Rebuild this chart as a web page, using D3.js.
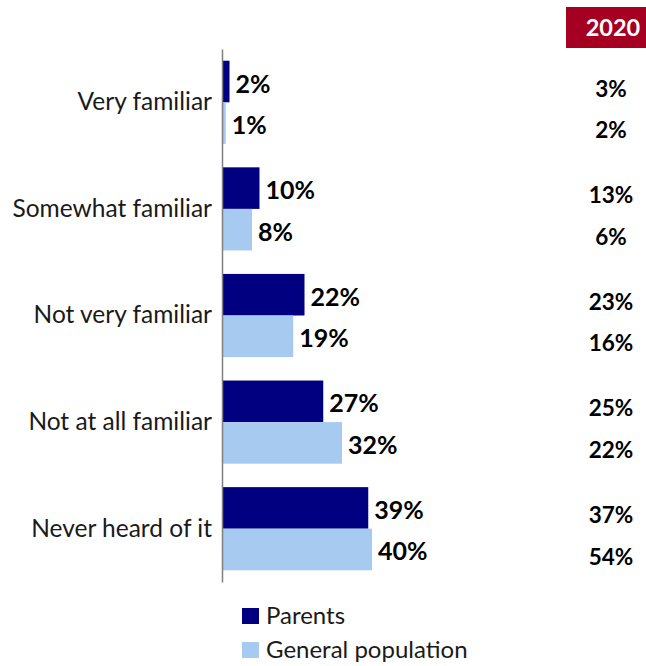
<!DOCTYPE html>
<html>
<head>
<meta charset="utf-8">
<script src="https://cdn.jsdelivr.net/npm/d3@7"></script>
<style>
  body { margin: 0; background: #fff; }
  svg { font-family: Lato, "Open Sans", sans-serif; }
</style>
</head>
<body>
<svg id="chart" width="646" height="666"></svg>
<script>
const categories = ["Very familiar", "Somewhat familiar", "Not very familiar", "Not at all familiar", "Never heard of it"];
const seriesNames = ["Parents", "General population"];
const parents = [2, 10, 22, 27, 39];
const generalPop = [1, 8, 19, 32, 40];
const values2020 = [
    [3, 2],
    [13, 6],
    [23, 16],
    [25, 22],
    [37, 54]
];
const yearLabel = "2020";

const colors = ["#000080", "#A6CAF0"];

const svg = d3.select("#chart");
const axisX = 222;

const y = d3.scaleBand()
    .domain(categories)
    .range([49, 582])
    .paddingInner(0.22)
    .paddingOuter(0.11);

const sub = d3.scaleBand()
    .domain(seriesNames)
    .range([0, y.bandwidth()]);

const x = d3.scaleLinear()
    .domain([0, 40])
    .range([axisX, axisX + 150]);

const data = categories.map((c, i) => ({
    cat: c,
    vals: [parents[i], generalPop[i]],
    old: values2020[i]
}));

const groups = svg.append("g")
    .selectAll("g")
    .data(data)
    .join("g")
    .attr("transform", d => `translate(0,${y(d.cat)})`);

groups.selectAll("rect")
    .data(d => d.vals.map((v, j) => ({ v, s: seriesNames[j], j })))
    .join("rect")
    .attr("x", x(0))
    .attr("y", d => sub(d.s))
    .attr("width", d => x(d.v) - x(0))
    .attr("height", sub.bandwidth())
    .attr("fill", d => colors[d.j]);

groups.selectAll("text.val")
    .data(d => d.vals.map((v, j) => ({ v, s: seriesNames[j] })))
    .join("text")
    .attr("class", "val")
    .attr("x", d => x(d.v) + 6)
    .attr("y", d => sub(d.s) + sub.bandwidth() / 2 + 2)
    .attr("dy", "0.36em")
    .attr("font-size", 25)
    .attr("font-weight", "bold")
    .attr("fill", "#000")
    .text(d => d.v + "%");

groups.selectAll("text.old")
    .data(d => d.old.map((v, j) => ({ v, s: seriesNames[j] })))
    .join("text")
    .attr("class", "old")
    .attr("x", 611)
    .attr("y", d => sub(d.s) + sub.bandwidth() / 2 + 7)
    .attr("dy", "0.36em")
    .attr("text-anchor", "middle")
    .attr("font-size", 22.5)
    .attr("font-weight", "bold")
    .attr("fill", "#000")
    .text(d => d.v + "%");

// category axis
const axis = svg.append("g")
    .attr("transform", `translate(${axisX},0)`)
    .call(d3.axisLeft(y).tickSize(0).tickPadding(10));
axis.select(".domain").attr("stroke", "#7f7f7f").attr("stroke-width", 1.5);
axis.selectAll("text")
    .attr("font-size", 24.5)
    .attr("font-family", "Lato, sans-serif")
    .attr("fill", "#1a1a1a");

// 2020 header
svg.append("rect")
    .attr("x", 566)
    .attr("y", 7)
    .attr("width", 90)
    .attr("height", 41)
    .attr("fill", "#A50021");
svg.append("text")
    .attr("x", 613)
    .attr("y", 28)
    .attr("dy", "0.36em")
    .attr("text-anchor", "middle")
    .attr("font-size", 23.5)
    .attr("font-weight", "bold")
    .attr("fill", "#fff")
    .text(yearLabel);

// legend
const legend = svg.append("g")
    .selectAll("g")
    .data(seriesNames)
    .join("g")
    .attr("transform", (d, i) => `translate(242,${608 + i * 34})`);
legend.append("rect")
    .attr("width", 17)
    .attr("height", 16)
    .attr("fill", (d, i) => colors[i]);
legend.append("text")
    .attr("x", 24)
    .attr("y", 8)
    .attr("dy", "0.33em")
    .attr("font-size", 24)
    .attr("fill", "#1a1a1a")
    .text(d => d);
</script>
</body>
</html>
